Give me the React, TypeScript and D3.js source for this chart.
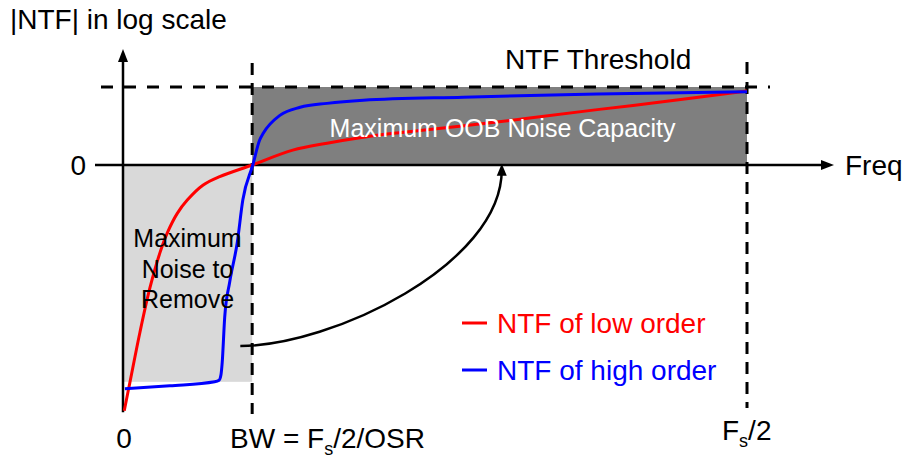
import React from "react";
import * as d3 from "d3";

// ---- data (normalized frequency: 0 .. Fs/2 = 1 ; |NTF| log units: 0 = unity, 1 = threshold)
const BW = 0.207;
const FS2 = 1.0;
const THRESHOLD = 1.0;
const NOISE_FLOOR = -2.78;

const lowOrderFreq = [0.002, 0.011, 0.027, 0.043, 0.059, 0.071, 0.087, 0.103, 0.128, 0.155, 0.207, 0.272, 0.327, 0.38, 0.439, 0.599, 0.76, 0.865, 1.0];
const lowOrderMag = [-3.15, -2.79, -2.15, -1.58, -1.13, -0.87, -0.62, -0.45, -0.26, -0.15, 0, 0.19, 0.28, 0.35, 0.41, 0.55, 0.71, 0.81, 0.95];

const highOrderFreq = [0.003, 0.075, 0.147, 0.154, 0.157, 0.159, 0.163, 0.171, 0.183, 0.192, 0.208, 0.219, 0.225, 0.252, 0.284, 0.327, 0.385, 0.545, 0.76, 1.0];
const highOrderMag = [-2.87, -2.83, -2.78, -2.76, -2.69, -2.53, -1.95, -1.5, -1.0, -0.45, 0, 0.32, 0.41, 0.64, 0.74, 0.79, 0.83, 0.87, 0.91, 0.94];

const legendLabels = ["NTF of low order", "NTF of high order"];
const seriesColors = ["#ff0000", "#0000ff"];

// curved arrow (data units): from inside the band to the OOB region
const arrowFreq = [0.188, 0.334, 0.607, 0.607];
const arrowMag = [-2.32, -2.32, -1.28, -0.06];

const W = 905;
const H = 458;

export default function App() {
  const x = d3.scaleLinear().domain([0, 1]).range([123, 747]);
  const y = d3.scaleLinear().domain([-3.2, 1]).range([414.6, 87]);

  const lineSmooth = d3
    .line<[number, number]>()
    .x((d) => x(d[0]))
    .y((d) => y(d[1]))
    .curve(d3.curveCatmullRom.alpha(0.5));
  const lineMono = d3
    .line<[number, number]>()
    .x((d) => x(d[0]))
    .y((d) => y(d[1]))
    .curve(d3.curveMonotoneX);

  const low: [number, number][] = lowOrderFreq.map((f, i) => [f, lowOrderMag[i]]);
  const high: [number, number][] = highOrderFreq.map((f, i) => [f, highOrderMag[i]]);

  const path = d3.path();
  path.moveTo(x(arrowFreq[0]), y(arrowMag[0]));
  path.bezierCurveTo(
    x(arrowFreq[1]), y(arrowMag[1]),
    x(arrowFreq[2]), y(arrowMag[2]),
    x(arrowFreq[3]), y(arrowMag[3])
  );

  const font = "'Liberation Sans', Arial, Helvetica, sans-serif";
  const x0 = x(0);
  const y0 = y(0);
  const xBW = x(BW);
  const xFs = x(FS2);
  const yT = y(THRESHOLD);
  const tipX = x(arrowFreq[3]);
  const tipY = y(arrowMag[3]);

  return (
    <svg width={W} height={H} style={{ position: "absolute", left: 0, top: 0, background: "#fff" }} fontFamily={font}>
      {/* shaded regions */}
      <rect x={x0} y={y0} width={xBW - x0} height={y(NOISE_FLOOR) - y0} fill="#d9d9d9" />
      <rect x={xBW} y={yT} width={xFs - xBW} height={y0 - yT} fill="#7f7f7f" />

      {/* axes */}
      <line x1={x0} y1={y(-3.17)} x2={x0} y2={60} stroke="#000" strokeWidth={2.5} />
      <path d={`M${x0},${49} L${x0 - 5},${62} L${x0 + 5},${62} Z`} fill="#000" />
      <line x1={95} y1={y0} x2={822} y2={y0} stroke="#000" strokeWidth={2.5} />
      <path d={`M${834},${y0} L${821},${y0 - 5} L${821},${y0 + 5} Z`} fill="#000" />

      {/* dashed guide lines */}
      <line x1={101} y1={yT} x2={770} y2={yT} stroke="#000" strokeWidth={3} strokeDasharray="12,11" />
      <line x1={xBW} y1={63} x2={xBW} y2={414} stroke="#000" strokeWidth={3} strokeDasharray="12,8" />
      <line x1={xFs} y1={62} x2={xFs} y2={408} stroke="#000" strokeWidth={3} strokeDasharray="12,8" />

      {/* NTF curves */}
      <path d={lineSmooth(low) || ""} fill="none" stroke={seriesColors[0]} strokeWidth={3} />
      <path d={lineMono(high) || ""} fill="none" stroke={seriesColors[1]} strokeWidth={3} />

      {/* curved arrow */}
      <path d={path.toString()} fill="none" stroke="#000" strokeWidth={2.5} />
      <path d={`M${tipX},${tipY - 6} L${tipX - 5},${tipY + 6} L${tipX + 5},${tipY + 6} Z`} fill="#000" />

      {/* labels */}
      <text x={10} y={29} fontSize={28} fill="#000">|NTF| in log scale</text>
      <text x={505} y={69} fontSize={28} fill="#000">NTF Threshold</text>
      <text x={86} y={175} fontSize={28} fill="#000" textAnchor="end">0</text>
      <text x={845} y={175} fontSize={28} fill="#000">Freq</text>
      <text x={(xBW + xFs) / 2 + 3} y={137} fontSize={25} fill="#fff" textAnchor="middle">Maximum OOB Noise Capacity</text>
      <text fontSize={25} fill="#000" textAnchor="middle">
        <tspan x={187.5} y={247}>Maximum</tspan>
        <tspan x={187.5} y={278}>Noise to</tspan>
        <tspan x={187.5} y={308}>Remove</tspan>
      </text>

      {/* legend */}
      {legendLabels.map((lab, i) => (
        <g key={lab}>
          <line x1={462} x2={487} y1={323 + i * 47} y2={323 + i * 47} stroke={seriesColors[i]} strokeWidth={3} />
          <text x={497} y={333 + i * 47} fontSize={28} fill={seriesColors[i]}>{lab}</text>
        </g>
      ))}

      {/* x tick labels */}
      <text x={x0 + 1} y={448} fontSize={28} fill="#000" textAnchor="middle">0</text>
      <text x={230} y={448} fontSize={28} fill="#000">
        BW = F<tspan fontSize={18} dy={7}>s</tspan><tspan dy={-7}>/2/OSR</tspan>
      </text>
      <text x={722} y={440} fontSize={28} fill="#000">
        F<tspan fontSize={18} dy={7}>s</tspan><tspan dy={-7}>/2</tspan>
      </text>
    </svg>
  );
}
